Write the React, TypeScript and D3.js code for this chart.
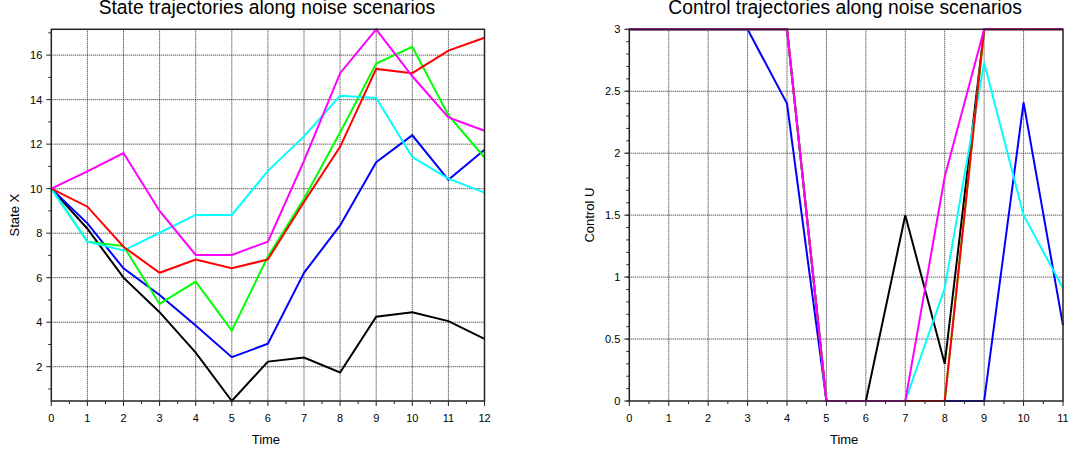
import * as d3 from 'd3';
import React, { useEffect, useRef } from 'react';

// time steps
const stateTime = [0, 1, 2, 3, 4, 5, 6, 7, 8, 9, 10, 11, 12];
const controlTime = [0, 1, 2, 3, 4, 5, 6, 7, 8, 9, 10, 11];

// state X for each noise scenario
const stateBlack = [10, 8.2, 6.0, 4.45, 2.63, 0.46, 2.23, 2.41, 1.74, 4.25, 4.45, 4.05, 3.25];
const stateBlue = [10, 8.44, 6.42, 5.22, 3.85, 2.43, 3.03, 6.22, 8.35, 11.19, 12.4, 10.4, 11.75];
const stateGreen = [10, 7.62, 7.42, 4.82, 5.82, 3.62, 6.95, 9.55, 12.52, 15.62, 16.37, 13.3, 11.4];
const stateCyan = [10, 7.62, 7.22, 8.02, 8.82, 8.82, 10.8, 12.35, 14.17, 14.07, 11.42, 10.45, 9.82];
const stateRed = [10, 9.19, 7.39, 6.22, 6.82, 6.42, 6.82, 9.4, 11.88, 15.38, 15.19, 16.2, 16.78];
const stateMagenta = [10, 10.78, 11.6, 9.0, 7.02, 7.02, 7.62, 11.25, 15.19, 17.16, 15.05, 13.2, 12.6];

// control U for each noise scenario
const ctrlBlack = [3, 3, 3, 3, 3, 0, 0, 1.5, 0.3, 3, 3, 3];
const ctrlBlue = [3, 3, 3, 3, 2.4, 0, 0, 0, 0, 0, 2.41, 0.61];
const ctrlGreen = [3, 3, 3, 3, 3, 0, 0, 0, 0, 3, 3, 3];
const ctrlCyan = [3, 3, 3, 3, 3, 0, 0, 0, 0.91, 2.73, 1.5, 0.91];
const ctrlRed = [3, 3, 3, 3, 3, 0, 0, 0, 0, 3, 3, 3];
const ctrlMagenta = [3, 3, 3, 3, 3, 0, 0, 0, 1.81, 3, 3, 3];

const colors = ['#000000', '#0000ff', '#00ff00', '#00ffff', '#ff0000', '#ff00ff'];

const stateSeries = [stateBlack, stateBlue, stateGreen, stateCyan, stateRed, stateMagenta];
const ctrlSeries = [ctrlBlack, ctrlBlue, ctrlGreen, ctrlCyan, ctrlRed, ctrlMagenta];

const stateYTicks = [2, 4, 6, 8, 10, 12, 14, 16];
const ctrlYTicks = [0, 0.5, 1, 1.5, 2, 2.5, 3];

const font = 'Liberation Sans, Arial, sans-serif';

function drawPanel(svg: any, opts: any) {
  const { left, right, top, bottom, time, series, yDomain, yTicks, yMinor, xMinor, title, ylabel } = opts;
  const x = d3.scaleLinear().domain([time[0], time[time.length - 1]]).range([left, right]);
  const y = d3.scaleLinear().domain(yDomain).range([bottom, top]);
  const g = svg.append('g');

  // grid
  const xt = time;
  g.selectAll('.gx').data(xt.filter((d: number) => d > x.domain()[0] && d < x.domain()[1]))
    .enter().append('line')
    .attr('x1', (d: number) => x(d)).attr('x2', (d: number) => x(d))
    .attr('y1', top).attr('y2', bottom)
    .attr('stroke', '#222').attr('stroke-width', 1).attr('stroke-dasharray', '1,1');
  g.selectAll('.gy').data(yTicks.filter((d: number) => y(d) < bottom - 1 && y(d) > top + 1))
    .enter().append('line')
    .attr('y1', (d: number) => y(d)).attr('y2', (d: number) => y(d))
    .attr('x1', left).attr('x2', right)
    .attr('stroke', '#222').attr('stroke-width', 1).attr('stroke-dasharray', '1,1');

  // lines
  const line = d3.line<number>().x((_d, i) => x(time[i])).y(d => y(d));
  series.forEach((s: number[], i: number) => {
    g.append('path').attr('d', line(s)).attr('fill', 'none')
      .attr('stroke', colors[i]).attr('stroke-width', 2).attr('stroke-linejoin', 'miter');
  });

  // frame
  g.append('rect').attr('x', left).attr('y', top).attr('width', right - left).attr('height', bottom - top)
    .attr('fill', 'none').attr('stroke', '#222').attr('stroke-width', 1.5);

  // ticks
  g.selectAll('.ytm').data(yTicks).enter().append('line')
    .attr('x1', left - 5).attr('x2', left).attr('y1', (d: number) => y(d)).attr('y2', (d: number) => y(d))
    .attr('stroke', '#222');
  g.selectAll('.ytn').data(yMinor).enter().append('line')
    .attr('x1', left - 3).attr('x2', left).attr('y1', (d: number) => y(d)).attr('y2', (d: number) => y(d))
    .attr('stroke', '#222');
  g.selectAll('.xtm').data(xt).enter().append('line')
    .attr('y1', bottom).attr('y2', bottom + 5).attr('x1', (d: number) => x(d)).attr('x2', (d: number) => x(d))
    .attr('stroke', '#222');
  g.selectAll('.xtn').data(xMinor).enter().append('line')
    .attr('y1', bottom).attr('y2', bottom + 3).attr('x1', (d: number) => x(d)).attr('x2', (d: number) => x(d))
    .attr('stroke', '#222');

  // labels
  g.selectAll('.yl').data(yTicks).enter().append('text')
    .attr('x', left - 9).attr('y', (d: number) => y(d) + 4)
    .attr('text-anchor', 'end').attr('font-size', 11).attr('font-family', font).attr('fill', '#000')
    .text((d: number) => String(d));
  g.selectAll('.xl').data(xt).enter().append('text')
    .attr('x', (d: number) => x(d)).attr('y', bottom + 21)
    .attr('text-anchor', 'middle').attr('font-size', 11).attr('font-family', font).attr('fill', '#000')
    .text((d: number) => String(d));

  g.append('text').attr('x', (left + right) / 2 - 2).attr('y', 444)
    .attr('text-anchor', 'middle').attr('font-size', 13).attr('font-family', font).text('Time');
  g.append('text').attr('transform', `translate(${opts.ylabelX},${(top + bottom) / 2}) rotate(-90)`)
    .attr('text-anchor', 'middle').attr('font-size', 13).attr('font-family', font).text(ylabel);
  g.append('text').attr('x', (left + right) / 2 - 1).attr('y', 14)
    .attr('text-anchor', 'middle').attr('font-size', 19.3).attr('font-family', font).text(title);
}

function App() {
  const ref = useRef<SVGSVGElement>(null);

  useEffect(() => {
    const svg = d3.select(ref.current);
    svg.selectAll('*').remove();

    const stateExtent = d3.extent(stateSeries.flat()) as [number, number];
    drawPanel(svg, {
      left: 51.3, right: 484.5, top: 29.3, bottom: 401,
      time: stateTime, series: stateSeries,
      yDomain: stateExtent, yTicks: stateYTicks,
      yMinor: d3.range(1, 18, 2).filter(v => v >= stateExtent[0] && v <= stateExtent[1]),
      xMinor: d3.range(0.5, 12, 1),
      title: 'State trajectories along noise scenarios', ylabel: 'State X', ylabelX: 19,
    });

    drawPanel(svg, {
      left: 629.3, right: 1063, top: 29.3, bottom: 401,
      time: controlTime, series: ctrlSeries,
      yDomain: [0, 3], yTicks: ctrlYTicks,
      yMinor: d3.range(0, 3.001, 0.1).map(v => +v.toFixed(1)),
      xMinor: d3.range(0.5, 11, 1),
      title: 'Control trajectories along noise scenarios', ylabel: 'Control U', ylabelX: 594,
    });
  });

  return (
    <div style={{ position: 'absolute', left: 0, top: 0 }}>
      <svg ref={ref} width={1068} height={452} style={{ display: 'block', background: '#fff' }} />
    </div>
  );
}

export default App;
